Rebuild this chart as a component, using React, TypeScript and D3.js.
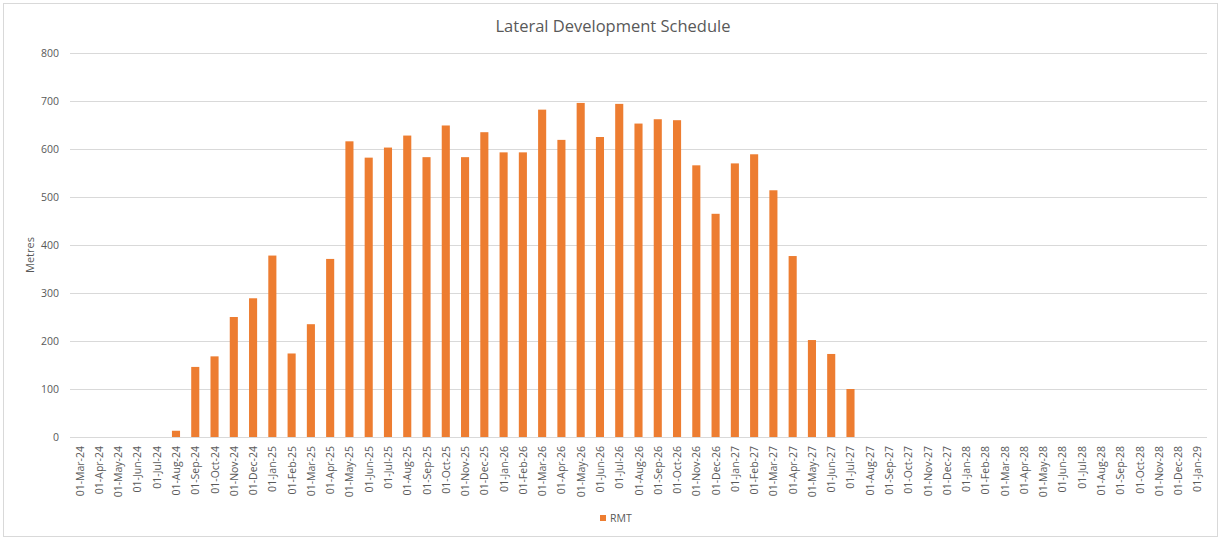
import React from "react";
import * as d3 from "d3";

const categories: string[] = [
  "01-Mar-24","01-Apr-24","01-May-24","01-Jun-24","01-Jul-24","01-Aug-24","01-Sep-24","01-Oct-24","01-Nov-24","01-Dec-24",
  "01-Jan-25","01-Feb-25","01-Mar-25","01-Apr-25","01-May-25","01-Jun-25","01-Jul-25","01-Aug-25","01-Sep-25","01-Oct-25","01-Nov-25","01-Dec-25",
  "01-Jan-26","01-Feb-26","01-Mar-26","01-Apr-26","01-May-26","01-Jun-26","01-Jul-26","01-Aug-26","01-Sep-26","01-Oct-26","01-Nov-26","01-Dec-26",
  "01-Jan-27","01-Feb-27","01-Mar-27","01-Apr-27","01-May-27","01-Jun-27","01-Jul-27","01-Aug-27","01-Sep-27","01-Oct-27","01-Nov-27","01-Dec-27",
  "01-Jan-28","01-Feb-28","01-Mar-28","01-Apr-28","01-May-28","01-Jun-28","01-Jul-28","01-Aug-28","01-Sep-28","01-Oct-28","01-Nov-28","01-Dec-28",
  "01-Jan-29",
];

const rmt: number[] = [
  0, 0, 0, 0, 0, 13, 146, 168, 250, 289,
  378, 174, 235, 371, 616, 582, 603, 628, 583, 649, 583, 635,
  593, 593, 682, 619, 696, 625, 694, 653, 662, 660, 566, 465,
  570, 589, 514, 377, 202, 173, 100, 0, 0, 0, 0, 0,
  0, 0, 0, 0, 0, 0, 0, 0, 0, 0, 0, 0,
  0,
];

const yTicks: number[] = [0, 100, 200, 300, 400, 500, 600, 700, 800];

const W = 1221;
const H = 541;
const left = 70;
const right = 1207;
const top = 53;
const bottom = 437;
const font = "'Open Sans', 'Liberation Sans', sans-serif";
const textColor = "#595959";
const barColor = "#ED7D31";

export default function App() {
  const x = d3.scaleBand<string>().domain(categories).range([left, right]).paddingInner(0.58).paddingOuter(0.29);
  const y = d3.scaleLinear().domain([0, 800]).range([bottom, top]);

  return (
    <svg width={W} height={H} style={{ position: "absolute", left: 0, top: 0, display: "block" }}>
      <rect x={0} y={0} width={W} height={H} fill="#fff" />
      <rect x={3.5} y={3.5} width={1214} height={533} fill="#fff" stroke="#d9d9d9" strokeWidth={1} />
      <text x={613} y={32} textAnchor="middle" fontFamily={font} fontSize={16.5} fill={textColor}>
        Lateral Development Schedule
      </text>
      {yTicks.map((t) => (
        <g key={t}>
          <line x1={left} x2={right} y1={Math.round(y(t)) + 0.5} y2={Math.round(y(t)) + 0.5} stroke="#d9d9d9" strokeWidth={1} />
          <text x={59} y={y(t) + 4} textAnchor="end" fontFamily={font} fontSize={10.5} fill={textColor}>
            {t}
          </text>
        </g>
      ))}
      <text
        transform={`translate(34,${(top + bottom) / 2 + 10}) rotate(-90)`}
        textAnchor="middle"
        fontFamily={font}
        fontSize={11}
        fill={textColor}
      >
        Metres
      </text>
      {categories.map((c, i) => (
        <rect
          key={c}
          x={x(c)!}
          y={y(rmt[i])}
          width={x.bandwidth()}
          height={bottom - y(rmt[i])}
          fill={barColor}
        />
      ))}
      {categories.map((c) => {
        const cx = x(c)! + x.bandwidth() / 2;
        return (
          <text
            key={"l" + c}
            transform={`translate(${cx + 4},${bottom + 9}) rotate(-90)`}
            textAnchor="end"
            fontFamily={font}
            fontSize={10.5}
            fill={textColor}
          >
            {c}
          </text>
        );
      })}
      <rect x={600} y={515} width={6} height={6} fill={barColor} />
      <text x={610} y={522} fontFamily={font} fontSize={10.5} fill={textColor}>
        RMT
      </text>
    </svg>
  );
}
